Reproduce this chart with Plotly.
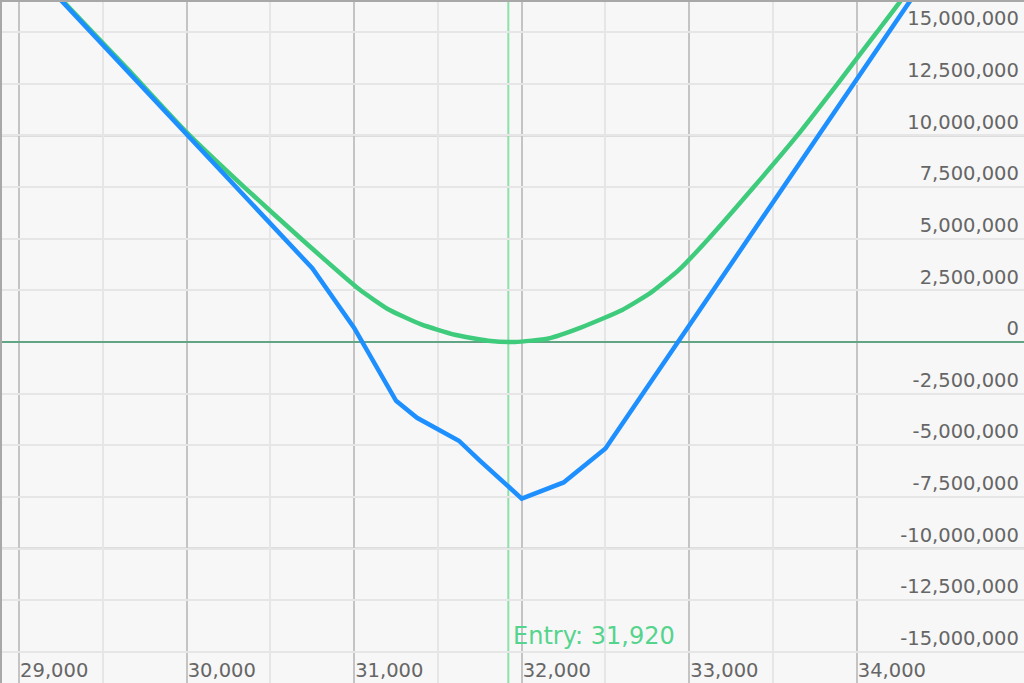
import plotly.graph_objects as go

# ---- data ----
entry_price = 31920

blue_x = [28900, 30750, 31000, 31250, 31375, 31625, 31750, 32000, 32250, 32500, 35000]
blue_y = [19.57e6, 3.57e6, 0.68e6, -2.85e6, -3.67e6, -4.78e6, -5.74e6, -7.58e6, -6.80e6, -5.16e6, 24.64e6]

green_x = [28900, 29300, 29650, 30000, 30350, 30690, 31030, 31200, 31400, 31600, 31800, 31960,
           32160, 32360, 32600, 32773, 32940, 33110, 33385, 33645, 33885, 34120, 34265, 35000]
green_y = [19.65e6, 16.18e6, 13.2e6, 10.15e6, 7.45e6, 4.95e6, 2.55e6, 1.6e6, 0.85e6, 0.35e6, 0.06e6, 0.0,
           0.17e6, 0.72e6, 1.55e6, 2.4e6, 3.5e6, 4.95e6, 7.5e6, 10.0e6, 12.5e6, 15.0e6, 16.55e6, 25.0e6]

x_ticks = [29000, 30000, 31000, 32000, 33000, 34000]
y_ticks = [-15e6, -12.5e6, -10e6, -7.5e6, -5e6, -2.5e6, 0, 2.5e6, 5e6, 7.5e6, 10e6, 12.5e6, 15e6]
y_major = [-10e6, 10e6]

x_range = [28898, 34998]
y_range = [-16.51e6, 16.46e6]

fmt = lambda v: f"{int(v):,}"

fig = go.Figure()
fig.add_trace(go.Scatter(x=green_x, y=green_y, mode="lines",
                         line=dict(color="#3ecb7c", width=4.5, shape="spline", smoothing=0.5),
                         hoverinfo="skip", showlegend=False))
fig.add_trace(go.Scatter(x=blue_x, y=blue_y, mode="lines",
                         line=dict(color="#1e8fff", width=4.5),
                         hoverinfo="skip", showlegend=False))

# darker major horizontal grid lines
for v in y_major:
    fig.add_shape(type="line", xref="x domain", yref="y", x0=0, x1=1, y0=v, y1=v,
                  line=dict(color="#c4c4c4", width=2), layer="below")

# entry line
fig.add_shape(type="line", xref="x", yref="paper", x0=entry_price, x1=entry_price, y0=0, y1=1,
              line=dict(color="#8fe0aa", width=2), layer="below")
fig.add_annotation(x=entry_price, y=-14.24e6, xref="x", yref="y", xanchor="left", yanchor="middle",
                   xshift=3, text=f"Entry: {entry_price:,}", showarrow=False,
                   font=dict(family="DejaVu Sans", size=24, color="#55d48d"))

fig.update_layout(
    width=1024, height=683,
    margin=dict(l=0, r=0, t=0, b=0),
    paper_bgcolor="#f7f7f7", plot_bgcolor="#f7f7f7",
    font=dict(family="DejaVu Sans", size=19.5, color="#666666"),
    showlegend=False,
    xaxis=dict(range=x_range, tickmode="array", tickvals=x_ticks,
               ticktext=[fmt(v) for v in x_ticks],
               ticklabelposition="inside right", ticks="",
               showgrid=True, gridcolor="#c4c4c4", gridwidth=2,
               minor=dict(dtick=500, tick0=0, showgrid=True, gridcolor="#e6e6e6", gridwidth=2),
               zeroline=False, showline=True, mirror=True, linecolor="#a8a8a8", linewidth=2,
               tickfont=dict(size=19.5, color="#666666")),
    yaxis=dict(range=y_range, side="right", tickmode="array", tickvals=y_ticks,
               ticktext=[fmt(v) for v in y_ticks],
               ticklabelposition="inside top", ticks="", ticklabelstandoff=5,
               showgrid=True, gridcolor="#e6e6e6", gridwidth=2,
               zeroline=True, zerolinecolor="#62a585", zerolinewidth=2,
               showline=True, mirror=True, linecolor="#a8a8a8", linewidth=2,
               tickfont=dict(size=19.5, color="#666666")),
)

fig.write_html("out.html", config={"displayModeBar": False},
               post_script="document.body.style.margin='0';document.documentElement.style.overflow='hidden';")
